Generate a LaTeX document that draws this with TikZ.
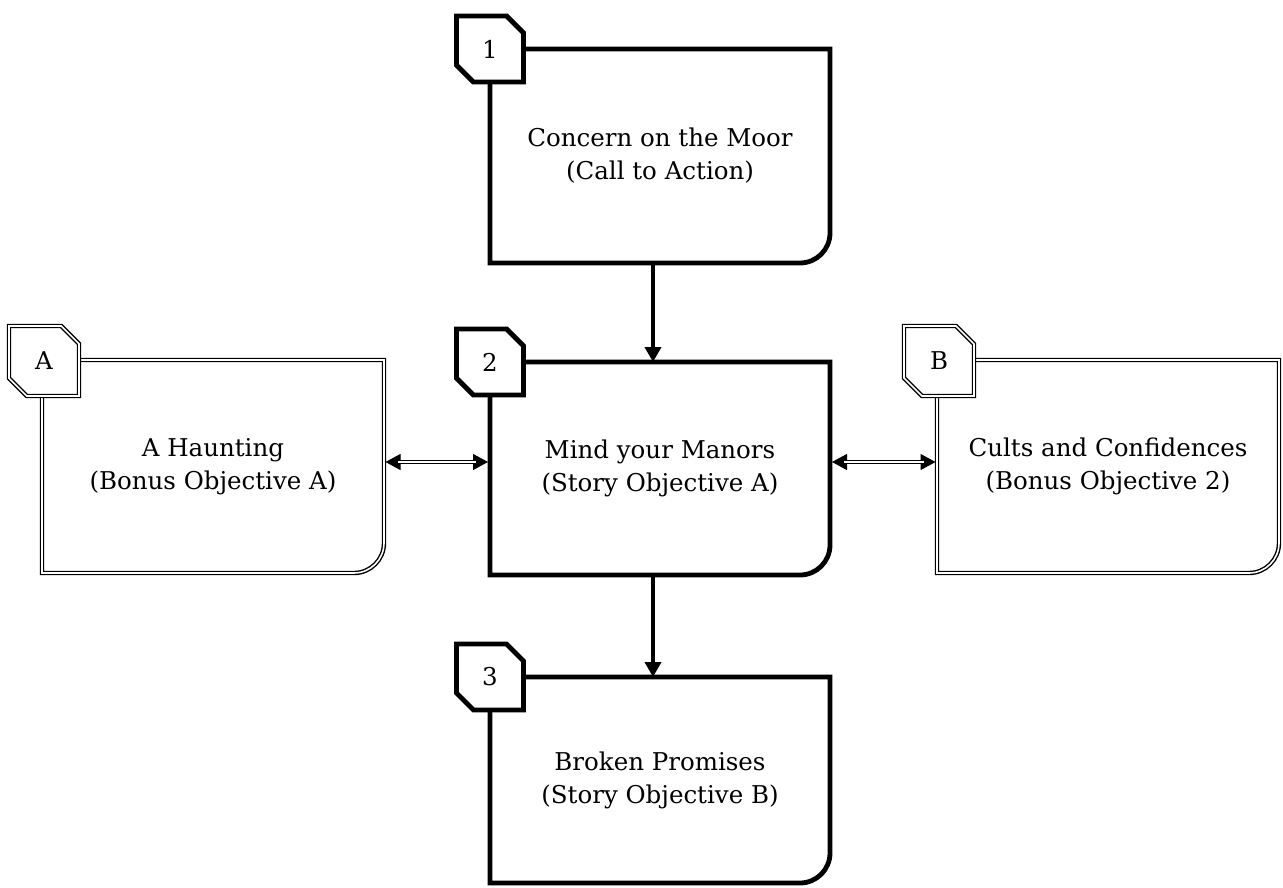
\documentclass[tikz,border=0pt]{standalone}
\usepackage{fontspec}
\setmainfont{DejaVu Serif}
\usetikzlibrary{shapes.misc,arrows.meta,calc}
\begin{document}
\begin{tikzpicture}[x=1pt,y=-1pt,
  bodybox/.style={rectangle,inner sep=0pt,outer sep=0pt,align=center,font=\fontsize{24.5}{33}\selectfont},
  boldline/.style={line width=4.8pt,line join=miter},
  dblline/.style={double,double distance=1.6pt,line width=1.4pt},
  tagbox/.style={chamfered rectangle,chamfered rectangle corners={north east,south west},
    chamfered rectangle xsep=12pt,chamfered rectangle ysep=12pt,inner sep=0pt,outer sep=0pt,
    minimum width=67pt,minimum height=66pt,fill=white,font=\fontsize{24.5}{28}\selectfont},
  boldtag/.style={tagbox,boldline,draw},
  dbltag/.style={tagbox,dblline,draw,minimum width=70pt,minimum height=70pt},
  flowarrow/.style={line width=4.2pt,-{Triangle[length=15pt,width=16pt]}},
  headpair/.style={line width=1pt,{Triangle[length=15pt,width=16pt]}-{Triangle[length=15pt,width=16pt]}},
  shaft/.style={dblline,shorten <=12pt,shorten >=12pt}
]
\useasboundingbox (0,0) rectangle (1283,888);

% body nodes
\node[bodybox,minimum width=340pt,minimum height=214pt] (b1) at (660,156) {Concern on the Moor\\(Call to Action)};
\node[bodybox,minimum width=340pt,minimum height=213pt] (b2) at (660,468.5) {Mind your Manors\\(Story Objective A)};
\node[bodybox,minimum width=340pt,minimum height=206pt] (b3) at (660,780) {Broken Promises\\(Story Objective B)};
\node[bodybox,minimum width=342pt,minimum height=213pt] (bA) at (213,466.5) {A Haunting\\(Bonus Objective A)};
\node[bodybox,minimum width=342pt,minimum height=213pt] (bB) at (1108,466.5) {Cults and Confidences\\(Bonus Objective 2)};

% outlines
\foreach \b in {b1,b2,b3}{
  \draw[boldline] (\b.north west) -- (\b.north east) -- ([yshift=30pt]\b.south east)
    arc[start angle=0,end angle=-90,radius=30pt] -- (\b.south west) -- cycle;
}
\foreach \b in {bA,bB}{
  \draw[dblline] (\b.north west) -- (\b.north east) -- ([yshift=30pt]\b.south east)
    arc[start angle=0,end angle=-90,radius=30pt] -- (\b.south west) -- cycle;
}

% tags
\node[boldtag] (t1) at (b1.north west) {1};
\node[boldtag] (t2) at (b2.north west) {2};
\node[boldtag] (t3) at (b3.north west) {3};
\node[dbltag] (tA) at ($(bA.north west)+(2pt,-1pt)$) {A};
\node[dbltag] (tB) at ($(bB.north west)+(2pt,-1pt)$) {B};

% flow arrows
\draw[flowarrow] ($(b1.south)+(-7pt,0pt)$) -- ($(b2.north)+(-7pt,0pt)$);
\draw[flowarrow] ($(b2.south)+(-7pt,0pt)$) -- ($(b3.north)+(-7pt,0pt)$);

% side double arrows
\coordinate (ly) at (0,462);
\draw[headpair] ([xshift=1.5pt]bA.east |- ly) -- ([xshift=-2pt]b2.west |- ly);
\draw[shaft] ([xshift=1.5pt]bA.east |- ly) -- ([xshift=-2pt]b2.west |- ly);
\draw[headpair] ([xshift=2pt]b2.east |- ly) -- ([xshift=-1.5pt]bB.west |- ly);
\draw[shaft] ([xshift=2pt]b2.east |- ly) -- ([xshift=-1.5pt]bB.west |- ly);
\end{tikzpicture}
\end{document}
